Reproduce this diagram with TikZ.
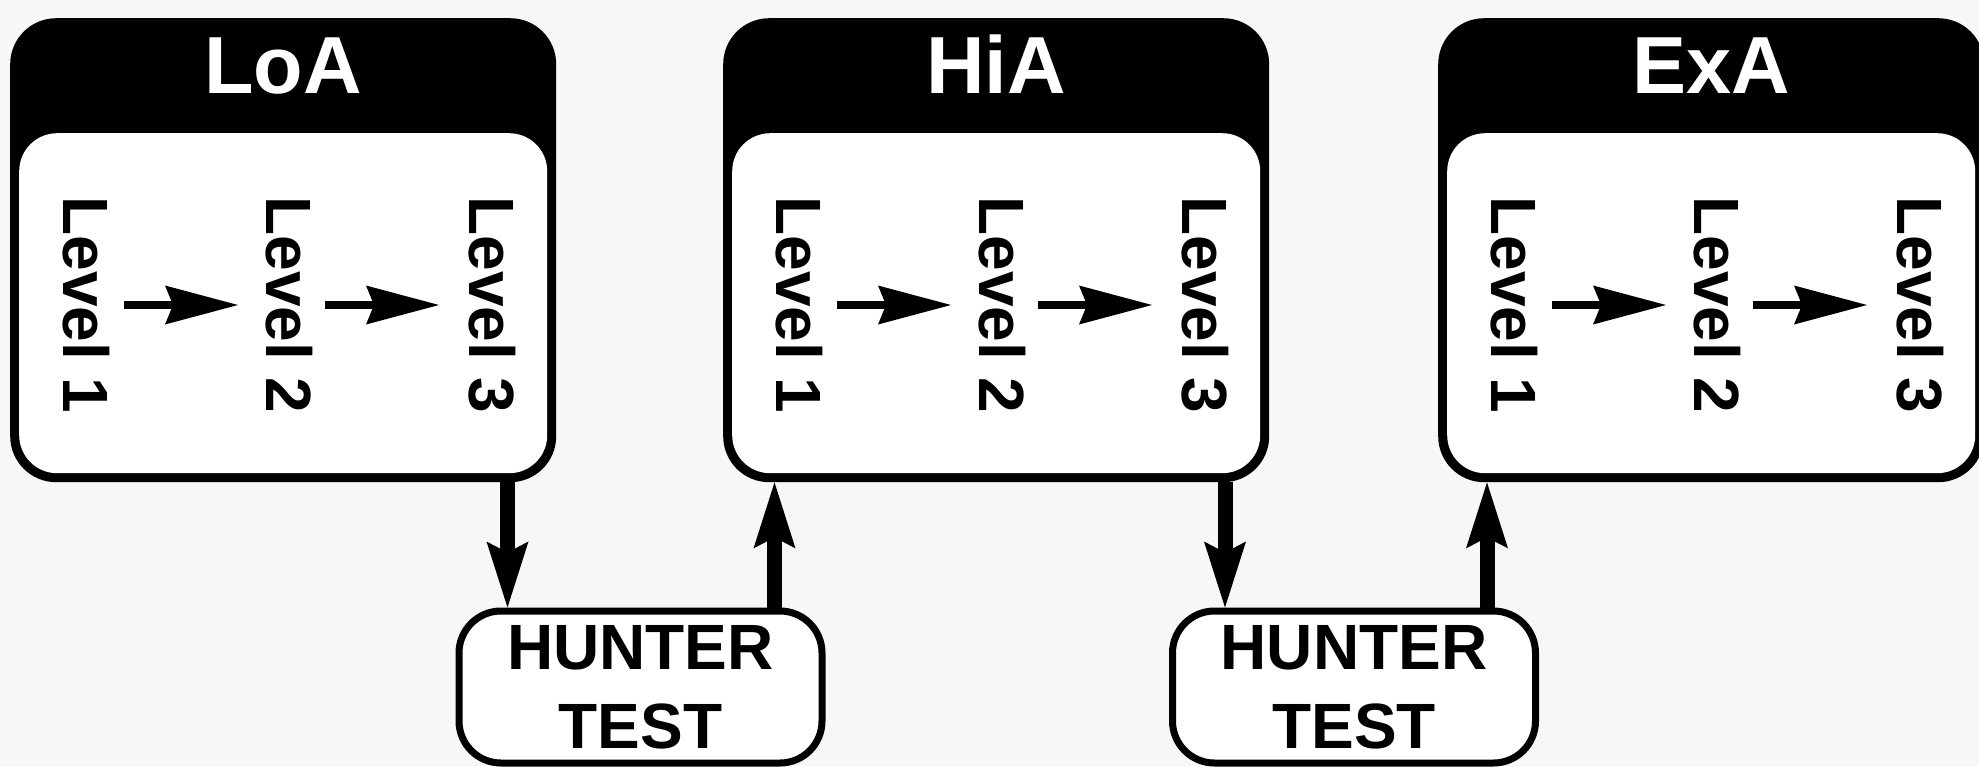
\documentclass[tikz,border=0pt]{standalone}
\usepackage{fontspec}
\setmainfont{Liberation Sans}
\usetikzlibrary{arrows.meta}
\begin{document}
\begin{tikzpicture}[x=1pt,y=-1pt,
  outerbox/.style={rectangle, fill=black, rounded corners=46pt, minimum width=546pt, minimum height=464pt, inner sep=0pt, anchor=north west},
  innerbox/.style={rectangle, fill=white, rounded corners=38pt, minimum width=528pt, minimum height=340pt, inner sep=0pt, anchor=north west},
  title/.style={text=white, font=\bfseries\fontsize{81}{90}\selectfont, anchor=base, inner sep=0pt},
  lvl/.style={font=\bfseries\fontsize{64}{70}\selectfont, rotate=-90, inner sep=0pt},
  lvarrow/.style={line width=8pt, -{Stealth[length=73pt,width=39pt,inset=8pt,line width=0pt]}},
  hunter/.style={draw, line width=7pt, fill=white, rounded corners=42pt, minimum width=363pt, minimum height=152pt, inner sep=0pt, align=center, font=\bfseries\fontsize{64}{79}\selectfont},
  bigarrow/.style={line width=15pt, -{Stealth[length=66pt,width=42pt,inset=11pt,line width=0pt]}}
]
\useasboundingbox (0,0) rectangle (1979,766);
\fill[black!3] (0,0) rectangle (1979,766);
\foreach \nm/\x/\t in {loa/10/LoA, hia/723/HiA, exa/1438/ExA}{
  \node[outerbox] (\nm) at (\x,18) {};
  \node[innerbox] (\nm-in) at (\x+9,133) {};
  \node[title] (\nm-t) at (\x+273,93) {\t};
  \node[lvl] (\nm1) at (\x+76,305) {Level 1};
  \node[lvl] (\nm2) at (\x+279,305) {Level 2};
  \node[lvl] (\nm3) at (\x+482,305) {Level 3};
  \draw[lvarrow, shorten <=38pt, shorten >=51pt] (\nm1.center) -- (\nm2.center);
  \draw[lvarrow, shorten <=36pt, shorten >=53pt] (\nm2.center) -- (\nm3.center);
}
\node[hunter] (h1) at (640.5,687) {HUNTER\\TEST};
\node[hunter] (h2) at (1354,687) {HUNTER\\TEST};
\coordinate (d1) at ([xshift=-133pt]h1.north);
\coordinate (u1) at ([xshift=134pt]h1.north);
\coordinate (d2) at ([xshift=-129pt]h2.north);
\coordinate (u2) at ([xshift=133pt]h2.north);
\draw[bigarrow] (d1 |- loa.south) -- (d1);
\draw[bigarrow] (u1) -- (u1 |- hia.south);
\draw[bigarrow] (d2 |- hia.south) -- (d2);
\draw[bigarrow] (u2) -- (u2 |- exa.south);
\end{tikzpicture}
\end{document}
